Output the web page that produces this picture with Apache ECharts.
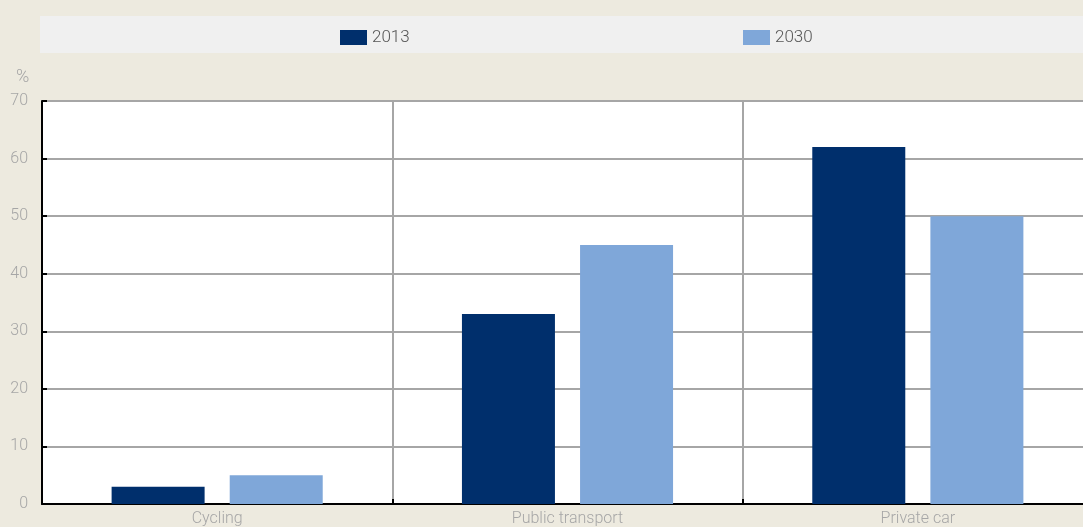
<!DOCTYPE html>
<html>
<head>
<meta charset="utf-8">
<script src="https://cdn.jsdelivr.net/npm/echarts@6/dist/echarts.min.js"></script>
<style>
  html, body { margin: 0; padding: 0; background: #EDEADF; overflow: hidden; }
  #chart { width: 1083px; height: 527px; }
</style>
</head>
<body>
<div id="chart"></div>
<script>
// Modal share of trips, %
const categories = ['Cycling', 'Public transport', 'Private car'];
const share2013 = [3, 33, 62];
const share2030 = [5, 45, 50];
const yTicks = [0, 10, 20, 30, 40, 50, 60, 70];

const FONT = '"Roboto", "Liberation Sans", sans-serif';
const DARK = '#002F6C';
const LIGHT = '#7FA7D9';
const TXT = { fontFamily: FONT, fontWeight: 300 };

const chart = echarts.init(document.getElementById('chart'));
chart.setOption({
  backgroundColor: '#EDEADF',
  animation: false,
  graphic: [
    { type: 'rect', left: 40, top: 16, shape: { width: 1043, height: 37 }, style: { fill: '#F0F0F0' }, silent: true },
    { type: 'text', left: 16, top: 68, style: { text: '%', fill: '#A6A6A6', fontSize: 18, fontFamily: FONT, fontWeight: 300 } }
  ],
  legend: [
    { data: ['2013'], left: 340, top: 29, itemWidth: 27, itemHeight: 15, itemGap: 14,
      textStyle: Object.assign({ color: '#555', fontSize: 17 }, TXT), icon: 'rect', padding: 0 },
    { data: ['2030'], left: 743, top: 29, itemWidth: 27, itemHeight: 15, itemGap: 14,
      textStyle: Object.assign({ color: '#555', fontSize: 17 }, TXT), icon: 'rect', padding: 0 }
  ],
  grid: { left: 42, width: 1051, top: 101, bottom: 23, backgroundColor: '#fff', show: true, borderWidth: 0,
          outerBoundsMode: 'none', containLabel: false },
  xAxis: {
    type: 'category',
    data: categories,
    axisLine: { lineStyle: { color: '#000', width: 2 } },
    axisTick: { show: true, inside: true, length: 5, lineStyle: { color: '#000', width: 2 } },
    splitLine: { show: true, lineStyle: { color: '#A6A6A6', width: 2 } },
    axisLabel: Object.assign({ color: '#A6A6A6', fontSize: 16, margin: 7 }, TXT)
  },
  yAxis: {
    type: 'value',
    min: yTicks[0],
    max: yTicks[yTicks.length - 1],
    interval: 10,
    axisLine: { show: true, lineStyle: { color: '#000', width: 2 } },
    axisTick: { show: true, inside: true, length: 5, lineStyle: { color: '#000', width: 2 } },
    splitLine: { lineStyle: { color: '#A6A6A6', width: 2 } },
    axisLabel: Object.assign({ color: '#A6A6A6', fontSize: 16, margin: 14 }, TXT)
  },
  series: [
    { name: '2013', type: 'bar', data: share2013, barWidth: 93, barGap: '27%',
      itemStyle: { color: DARK } },
    { name: '2030', type: 'bar', data: share2030, barWidth: 93,
      itemStyle: { color: LIGHT } }
  ]
});
</script>
</body>
</html>
